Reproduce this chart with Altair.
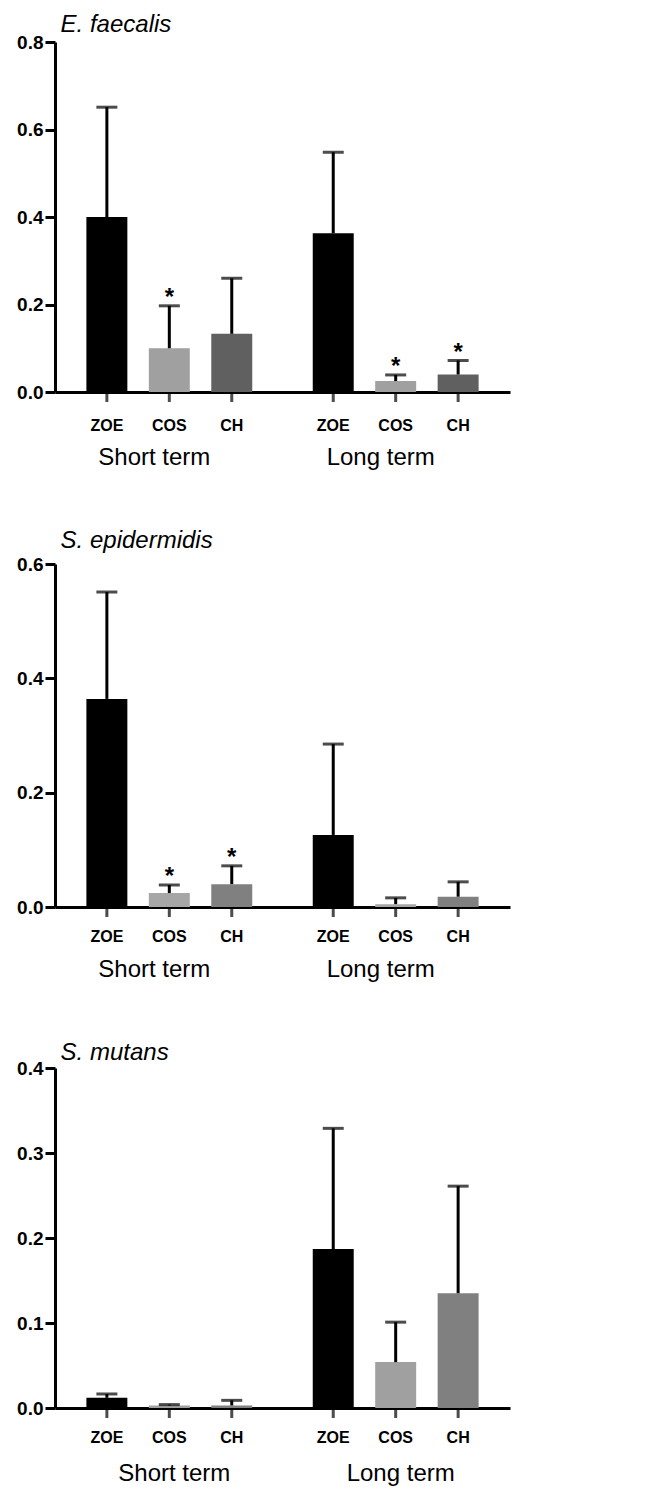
import altair as alt
import pandas as pd

terms = ["Short term", "Long term"]
materials = ["ZOE", "COS", "CH"]

# values ordered: Short ZOE, COS, CH, Long ZOE, COS, CH
ef_mean = [0.400, 0.100, 0.133, 0.363, 0.025, 0.040]
ef_top = [0.651, 0.197, 0.260, 0.548, 0.039, 0.072]
ef_sig = [False, True, False, False, True, True]

se_mean = [0.364, 0.0245, 0.040, 0.126, 0.005, 0.018]
se_top = [0.551, 0.0385, 0.072, 0.285, 0.016, 0.044]
se_sig = [False, True, True, False, False, False]

sm_mean = [0.012, 0.003, 0.003, 0.187, 0.054, 0.135]
sm_top = [0.0165, 0.004, 0.009, 0.329, 0.101, 0.261]
sm_sig = [False, False, False, False, False, False]

FONT = "Liberation Sans"


def make_df(means, tops, sigs):
    rows = []
    i = 0
    for t in terms:
        for m in materials:
            rows.append({"term": t, "material": m, "mean": means[i],
                         "top": tops[i], "sig": sigs[i]})
            i += 1
    return pd.DataFrame(rows)


def panel(title, means, tops, sigs, ymax, ticks, colors, label_offset, height,
          title_offset, mdy, tpad):
    df = make_df(means, tops, sigs)
    x = alt.X("term:N", sort=terms,
              scale=alt.Scale(paddingInner=0.2, paddingOuter=0.105),
              axis=alt.Axis(title=None, ticks=False, labelAngle=0,
                            labelFontSize=24, labelFont=FONT, labelColor="black",
                            labelPadding=tpad, labelOffset=label_offset,
                            domainColor="black", domainWidth=3))
    xo = alt.XOffset("material:N", sort=materials,
                     scale=alt.Scale(paddingInner=0.344, paddingOuter=0.122))
    yscale = alt.Scale(domain=[0, ymax], nice=False)
    y = alt.Y("mean:Q", scale=yscale,
              axis=alt.Axis(title=None, values=ticks, format=".1f", grid=False,
                            domainColor="black", domainWidth=3,
                            tickColor="black", tickWidth=3, tickSize=10,
                            labelFontSize=19, labelFontWeight="bold", labelFont=FONT,
                            labelColor="black", labelPadding=2))
    base = alt.Chart(df)
    bars = base.mark_bar().encode(
        x=x, xOffset=xo, y=y,
        color=alt.Color("material:N", sort=materials,
                        scale=alt.Scale(domain=materials, range=colors), legend=None),
    )
    stems = base.mark_rule(color="black", strokeWidth=3).encode(
        x=x, xOffset=xo, y="mean:Q", y2="top:Q")
    caps = base.mark_tick(color="black", size=21, thickness=3).encode(
        x=x, xOffset=xo, y="top:Q")
    xticks = base.mark_tick(color="black", orient="vertical", size=10,
                            thickness=3, yOffset=5).encode(
        x=x, xOffset=xo, y=alt.datum(0))
    mlabels = base.mark_text(dy=mdy, fontSize=16, fontWeight="bold", font=FONT,
                             color="black").encode(
        x=x, xOffset=xo, y=alt.datum(0), text="material:N")
    stars = base.transform_filter(alt.datum.sig).mark_text(
        text="*", fontSize=24, fontWeight="bold", font=FONT, color="black",
        baseline="alphabetic", dy=-1).encode(x=x, xOffset=xo, y="top:Q")
    return alt.layer(bars, stems, caps, xticks, mlabels, stars).properties(
        width=455, height=height,
        title=alt.TitleParams(title, fontStyle="italic", fontSize=24, font=FONT,
                              fontWeight="normal", anchor="start", dx=44,
                              offset=title_offset, color="black"),
    ).resolve_scale(color="independent")


p1 = panel("E. faecalis", ef_mean, ef_top, ef_sig, 0.8, [0, 0.2, 0.4, 0.6, 0.8],
           ["#000000", "#a0a0a0", "#606060"], -15, 350, -4, 34, 53)
p2 = panel("S. epidermidis", se_mean, se_top, se_sig, 0.6, [0, 0.2, 0.4, 0.6],
           ["#000000", "#a6a6a6", "#808080"], -15, 343, 2, 30, 50)
p3 = panel("S. mutans", sm_mean, sm_top, sm_sig, 0.4, [0, 0.1, 0.2, 0.3, 0.4],
           ["#000000", "#a0a0a0", "#808080"], 5, 340, -6, 30, 53)

chart = alt.vconcat(p1, p2, p3, spacing=60).resolve_scale(
    color="independent").properties(
    padding={"left": 8, "top": 5, "right": 5, "bottom": 5}
).configure_view(stroke=None)

chart.save("out.html", embed_options={"renderer": "svg", "actions": False})
